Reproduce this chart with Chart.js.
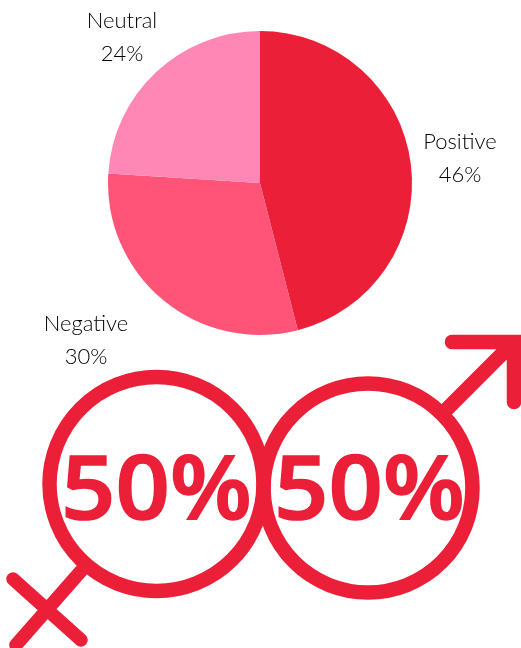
<!DOCTYPE html>
<html>
<head>
<meta charset="utf-8">
<title>Sentiment and gender split</title>
<script src="https://cdn.jsdelivr.net/npm/chart.js@4"></script>
<style>
  html, body { margin: 0; padding: 0; background: #fff; }
  #wrap { position: relative; width: 521px; height: 648px; overflow: hidden; }
  #pie { position: absolute; left: 0; top: 0; }
  #overlay { position: absolute; left: 0; top: 0; }
  .label { font-family: Lato, sans-serif; font-weight: 300; font-size: 22px; fill: #000; text-anchor: middle; }
  .big { font-family: "Open Sans", sans-serif; font-weight: 600; font-size: 88px; fill: #ec1f38; stroke: #ec1f38; stroke-width: 1.6; }
  .sym { fill: none; stroke: #ec1f38; stroke-width: 14.5; stroke-linecap: round; }
  .bar { stroke-width: 13.5; }
</style>
</head>
<body>
<div id="wrap">
  <canvas id="pie" width="521" height="340"></canvas>
  <svg id="overlay" width="521" height="648" xmlns="http://www.w3.org/2000/svg">
    <circle class="sym" cx="156.5" cy="484" r="107"/>
    <circle class="sym" cx="368" cy="488" r="104.5"/>
    <path class="sym" d="M447 409 L514 342 M452 342 L514 342 L514 402"/>
    <path class="sym bar" d="M81 571 L16 645 M13 579 L81 640"/>
    <g id="labels"></g>
  </svg>
</div>
<script>
const categories = ['Positive', 'Negative', 'Neutral'];
const shares = [46, 30, 24];
const colors = ['#ec1f38', '#ff5478', '#ff87b6'];

const genderShares = [50, 50];

// label spots, same order as categories
const labelX = [460, 86, 122];
const labelY = [149, 331, 28];
const bigX = [61, 274];
const bigY = 519;

new Chart(document.getElementById('pie').getContext('2d'), {
    type: 'pie',
    data: {
        labels: categories,
        datasets: [{
            data: shares,
            backgroundColor: colors,
            borderWidth: 0
        }]
    },
    options: {
        responsive: false,
        animation: false,
        layout: { padding: { left: 108, right: 109, top: 31, bottom: 5 } },
        plugins: {
            legend: { display: false },
            tooltip: { enabled: false }
        }
    }
});

const svgNS = 'http://www.w3.org/2000/svg';
const $labels = document.getElementById('labels');

function addText(cls, x, y, str, len) {
    const t = document.createElementNS(svgNS, 'text');
    t.setAttribute('class', cls);
    t.setAttribute('x', x);
    t.setAttribute('y', y);
    if (len) {
        t.setAttribute('textLength', len);
        t.setAttribute('lengthAdjust', 'spacingAndGlyphs');
    }
    t.textContent = str;
    $labels.appendChild(t);
}

categories.forEach(function (name, i) {
    addText('label', labelX[i], labelY[i], name);
    addText('label', labelX[i], labelY[i] + 33, shares[i] + '%');
});

genderShares.forEach(function (v, i) {
    addText('big', bigX[i], bigY, v + '%', 191);
});
</script>
</body>
</html>
